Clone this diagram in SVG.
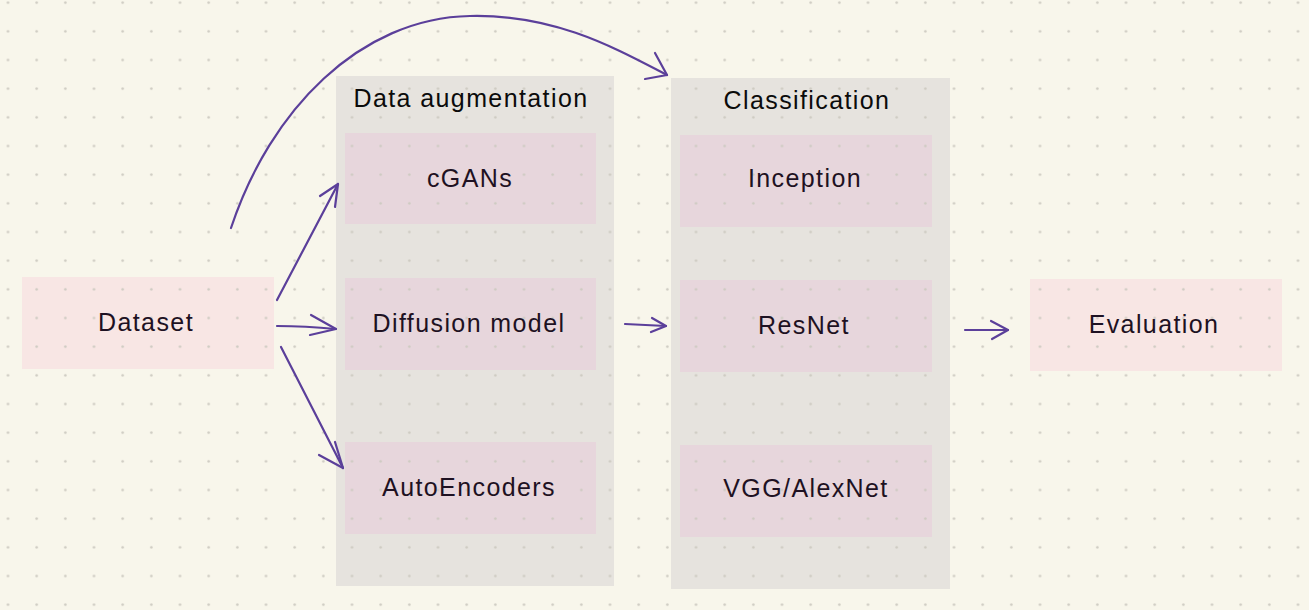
<svg xmlns="http://www.w3.org/2000/svg" width="1309" height="610" viewBox="0 0 1309 610">
<defs>
<pattern id="dots" patternUnits="userSpaceOnUse" x="-6.33" y="-11.67" width="28.667" height="28.667">
<circle cx="14.333" cy="14.333" r="1.3" fill="#CDCAC1"/>
</pattern>
<style>
.grp{fill:#E6E3DE}
.inner{fill:#E7D6DC}
.outer{fill:#F8E6E4}
.title{font-family:"Liberation Sans",Arial,sans-serif;font-size:25px;fill:#0B0B0B;text-anchor:middle;letter-spacing:1.4px}
.lbl{font-family:"Liberation Sans",Arial,sans-serif;font-size:25px;fill:#1E1122;text-anchor:middle;letter-spacing:1.4px}
.con path{fill:none;stroke:#5B3F9A;stroke-width:2.2;stroke-linecap:round;stroke-linejoin:round}
</style>
</defs>
<rect width="1309" height="610" fill="#F8F6EB"/>
<g id="group-augmentation">
<rect class="grp" x="336" y="76" width="278" height="510"/>
</g>
<g id="group-classification">
<rect class="grp" x="671" y="78" width="279" height="511"/>
</g>
<g id="node-cgans"><rect class="inner" x="345" y="133" width="251" height="91"/></g>
<g id="node-diffusion"><rect class="inner" x="345" y="278" width="251" height="92"/></g>
<g id="node-autoencoders"><rect class="inner" x="345" y="442" width="251" height="92"/></g>
<g id="node-inception"><rect class="inner" x="680" y="135" width="252" height="92"/></g>
<g id="node-resnet"><rect class="inner" x="680" y="280" width="252" height="92"/></g>
<g id="node-vgg"><rect class="inner" x="680" y="445" width="252" height="92"/></g>
<g id="node-dataset"><rect class="outer" x="22" y="277" width="252" height="92"/></g>
<g id="node-evaluation"><rect class="outer" x="1030" y="279" width="252" height="92"/></g>
<rect width="1309" height="610" fill="url(#dots)"/>
<g id="labels">
<text class="title" x="471" y="107">Data augmentation</text>
<text class="title" x="807" y="109">Classification</text>
<text class="lbl" x="470" y="187">cGANs</text>
<text class="lbl" x="469" y="332">Diffusion model</text>
<text class="lbl" x="469" y="496">AutoEncoders</text>
<text class="lbl" x="805" y="187">Inception</text>
<text class="lbl" x="804" y="334">ResNet</text>
<text class="lbl" x="806" y="497">VGG/AlexNet</text>
<text class="lbl" x="146" y="331">Dataset</text>
<text class="lbl" x="1154" y="333">Evaluation</text>
</g>
<g id="connectors" class="con">
<path d="M231 228 C 270 110, 360 18, 470 16 C 555 14, 615 48, 667 75"/>
<path d="M655 53 L667 75 L645 79"/>
<path d="M277 300 L338 184"/>
<path d="M320 196 L338 184 L335 207"/>
<path d="M277 326 Q 305 326 336 329"/>
<path d="M311 315 L336 329 L310 335"/>
<path d="M281 347 L343 468"/>
<path d="M319 455 L343 468 L335 442"/>
<path d="M625 324 L666 326"/>
<path d="M652 318 L666 326 L651 332"/>
<path d="M965 330 L1008 330"/>
<path d="M991 321 L1008 330 L992 339"/>
</g>
</svg>
